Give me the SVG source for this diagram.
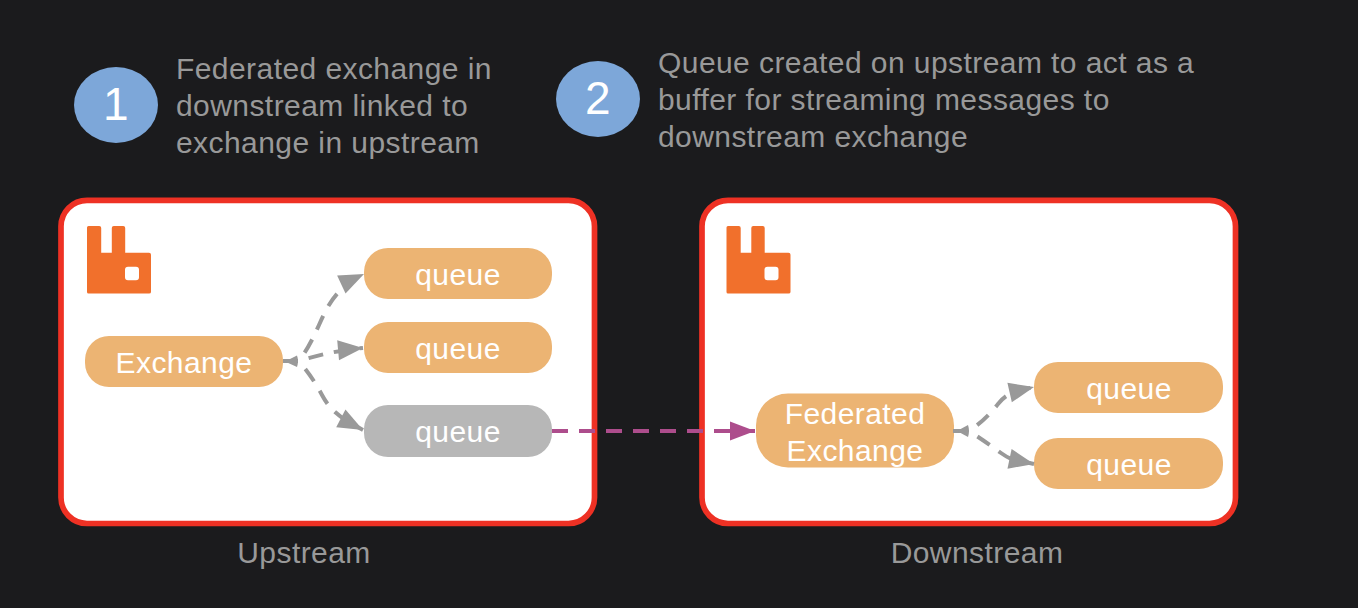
<svg xmlns="http://www.w3.org/2000/svg" width="1358" height="608" viewBox="0 0 1358 608">
<defs>
<marker id="ag" markerUnits="userSpaceOnUse" markerWidth="28" markerHeight="24" refX="26" refY="12" orient="auto"><path d="M1 2 L26 12 L1 22 Z" fill="#999"/></marker>
<marker id="ap" markerUnits="userSpaceOnUse" markerWidth="28" markerHeight="24" refX="26" refY="12" orient="auto"><path d="M1 2.500 L26 12 L1 21.500 Z" fill="#ad4d8c"/></marker>
<path id="logo" d="M88.500 226h10.700q2 0 2 2v24.700h10.600v-24.700q0-2 2-2h9.400q2 0 2 2v24.700h23.800q2 0 2 2v37.300q0 1.500-2 1.500H88.500q-1.500 0-1.500-1.500V227.500q0-1.500 1.500-1.500z M128 266.700q-3 0-3 3v7.600q0 3 3 3h8q3 0 3-3v-7.600q0-3-3-3z" fill="#f1702c" fill-rule="evenodd"/>
</defs>
<style>
text{font-family:"Liberation Sans",Arial,sans-serif;letter-spacing:.43px}
.cap{font-size:30px;fill:#999}
.lb{font-size:30px;fill:#fff;text-anchor:middle}
.box{fill:#fff;stroke:#ee3124;stroke-width:5.700}
.p{fill:#ecb473}
.c{fill:none;stroke:#999;stroke-width:4;stroke-dasharray:15 11;marker-end:url(#ag)}
.num{fill:#7da7d9}
</style>
<rect width="1358" height="608" fill="#1b1b1d"/>
<g id="n1"><ellipse class="num" cx="116" cy="105" rx="42" ry="38"/><text class="lb" x="116" y="120" style="font-size:46px">1</text></g>
<g id="t1"><text class="cap" x="176" y="79">Federated exchange in</text><text class="cap" x="176" y="116">downstream linked to</text><text class="cap" x="176" y="153">exchange in upstream</text></g>
<g id="n2"><ellipse class="num" cx="598" cy="99" rx="42" ry="38"/><text class="lb" x="598" y="114" style="font-size:46px">2</text></g>
<g id="t2"><text class="cap" x="658" y="73">Queue created on upstream to act as a</text><text class="cap" x="658" y="110">buffer for streaming messages to</text><text class="cap" x="658" y="147">downstream exchange</text></g>
<g id="upstream"><rect class="box" x="61" y="200.300" width="533.500" height="323.200" rx="26"/><use href="#logo"/><text class="cap" x="304" y="563" text-anchor="middle">Upstream</text></g>
<g id="downstream"><rect class="box" x="702" y="200.300" width="533.500" height="323.200" rx="26"/><use href="#logo" x="639.500"/><text class="cap" x="977" y="563" text-anchor="middle">Downstream</text></g>
<g id="exchange"><rect class="p" x="85" y="336" width="198" height="51" rx="24"/><text class="lb" x="184" y="373">Exchange</text></g>
<g id="q1"><rect class="p" x="364" y="248" width="188" height="51" rx="24"/><text class="lb" x="458" y="285">queue</text></g>
<g id="q2"><rect class="p" x="364" y="322" width="188" height="51" rx="24"/><text class="lb" x="458" y="359">queue</text></g>
<g id="q3"><rect x="364" y="405" width="188" height="52" rx="24" fill="#b7b7b7"/><text class="lb" x="458" y="442">queue</text></g>
<g id="fed"><rect class="p" x="756" y="393.500" width="198" height="74" rx="32"/><text class="lb" x="855" y="424">Federated</text><text class="lb" x="855" y="461">Exchange</text></g>
<g id="q4"><rect class="p" x="1034" y="362" width="189" height="51" rx="24"/><text class="lb" x="1129" y="399">queue</text></g>
<g id="q5"><rect class="p" x="1034" y="438" width="189" height="51" rx="24"/><text class="lb" x="1129" y="475">queue</text></g>
<g id="connectors">
<path class="c" d="M283 361H298C304 355 311 343 319 325S336 287 364 274"/>
<path class="c" d="M283 361H298C310 358 330 351 363 348"/>
<path class="c" d="M283 361H298C304 366 314 380 322 395S340 418 363 430"/>
<path class="c" d="M953 431H969C980 424 990 414 998 404S1012 392 1034 387"/>
<path class="c" d="M953 431H969C980 438 990 445 1001 453S1015 460 1034 464"/>
<path d="M285 361.500L297 355.500Q299 361 297 367Z" fill="#999"/>
<path d="M957 431L968 425Q970 431 968 437Z" fill="#999"/>
<path d="M552 431H755" fill="none" stroke="#ad4d8c" stroke-width="4" stroke-dasharray="16 11" marker-end="url(#ap)"/>
</g>
</svg>
